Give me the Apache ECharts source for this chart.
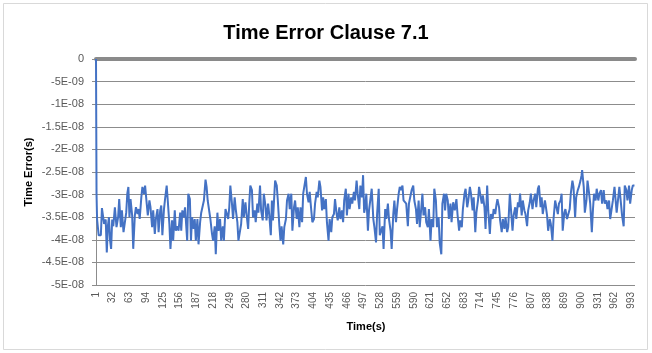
<!DOCTYPE html>
<html>
<head>
<meta charset="utf-8">
<script src="https://cdn.jsdelivr.net/npm/echarts@6/dist/echarts.min.js"></script>
<style>
html,body{margin:0;padding:0;background:#fff;}
#chart{width:652px;height:353px;}
</style>
</head>
<body>
<div id="chart"></div>
<script>
// Sample index (0-based, label = index+1) and time error in nanoseconds
var timeErrorNs = [
[0,0],[1,-30],[2,-35.5],[5,-39],[9,-39],[11,-33],[14,-33],[15,-36.5],[18,-35.5],[20,-42.8],[22,-37],[24,-35],[26,-40],[28,-42],[30,-35.5],[32,-37],[35,-32.8],[37,-32.8],[38,-37.2],[41,-35],[43,-31],[46,-37.2],[48,-33.5],[51,-38.3],[53,-38],[56,-34],[58,-29.8],[60,-28.3],[62,-35],[64,-31],[67,-34.6],[69,-42],[72,-34.6],[74,-32.8],[77,-34.3],[79,-33.2],[81,-35.4],[84,-30.6],[86,-28.3],[89,-29.8],[91,-28],[94,-32],[96,-34.6],[99,-31.3],[101,-32.8],[104,-37.2],[106,-33.5],[109,-38.7],[111,-35.4],[114,-33.2],[116,-38.3],[119,-33.5],[121,-32.4],[123,-39],[126,-33.2],[128,-31],[131,-28],[133,-31.3],[136,-36.5],[138,-42],[141,-35.7],[143,-40.2],[146,-33.5],[148,-38],[151,-37],[153,-38],[156,-34],[158,-38],[160,-33.5],[163,-35],[165,-32.8],
[166,-33.2],[169,-40.2],[171,-29.8],[174,-31],[176,-40.2],[178,-35],[181,-37.6],[183,-35.4],[185,-40.2],[188,-35.4],[190,-41],[193,-36.1],[195,-34],[198,-34],[200,-31.3],[203,-26.7],[205,-28.3],[207,-31.3],[210,-31.7],[212,-35.4],[215,-38.7],[217,-40.2],[220,-37],[222,-43.2],[225,-34],[227,-38],[230,-35.4],[232,-40.2],[235,-37],[237,-40.2],[240,-33.2],[242,-33.2],[245,-35.4],[247,-32.8],[249,-28],[252,-32],[254,-35.4],[257,-30.6],[259,-33.2],[262,-36.1],[264,-40.2],[267,-40.2],[269,-36.5],[272,-31],[274,-35],[277,-31.7],[279,-34.3],[282,-37.6],[284,-32],[286,-28],[289,-29],[291,-35],[294,-33.5],[296,-36.1],[299,-32],[301,-34],[304,-28],[306,-33.5],[309,-35.7],[311,-29.8],[314,-32.4],[316,-35.7],[319,-32],[321,-34.3],[324,-39],[326,-31.3],[328,-35.7],[331,-29],
[332,-26.9],[335,-28],[337,-31.3],[340,-37.2],[342,-40.2],[344,-37],[347,-41],[349,-37.2],[352,-35.4],[354,-31.3],[357,-29.8],[359,-33.2],[362,-29.8],[364,-38],[367,-32.8],[369,-31.3],[372,-35.4],[374,-32.8],[377,-37.2],[379,-32.8],[382,-36.1],[384,-29.8],[386,-29.4],[389,-26.1],[391,-29.8],[394,-31.7],[396,-29.4],[399,-33.5],[401,-36.1],[404,-35.4],[406,-32],[409,-29.4],[411,-30.6],[414,-26.9],[416,-28.3],[419,-33.5],[421,-30.6],[423,-33.2],[426,-31],[428,-36.1],[431,-40.2],[433,-35.4],[436,-38.3],[438,-35],[441,-34.3],[443,-31],[446,-34.3],[448,-35.7],[451,-32.8],[453,-35.4],[456,-33.5],[458,-36.1],[460,-31.3],[463,-28.7],[465,-34.6],[468,-29.8],[470,-33.2],[473,-30.6],[475,-32],[478,-29.4],[480,-31.3],[483,-26.9],[485,-29.8],[488,-33.2],[490,-28],[493,-30.6],[495,-25.7],[497,-34],
[499,-32.8],[501,-29.8],[504,-38],[506,-33.5],[509,-30.6],[511,-28.7],[514,-35.4],[516,-37.2],[519,-40.6],[521,-34.3],[524,-28.7],[526,-39],[528,-39],[531,-37],[533,-42],[536,-33.2],[538,-35.4],[541,-32],[543,-35.4],[546,-38],[548,-42],[551,-34.3],[553,-31.3],[556,-36.1],[558,-33.2],[561,-29.8],[563,-28.3],[565,-29],[568,-28],[570,-31.3],[573,-31],[575,-32],[578,-37],[580,-32],[583,-30.2],[585,-29],[588,-28],[590,-31.3],[593,-33.2],[595,-36.5],[598,-31.3],[600,-37.2],[603,-32.8],[605,-29.8],[607,-34.6],[610,-32.8],[612,-36.1],[615,-37.2],[617,-33.2],[620,-40.2],[622,-35.4],[625,-37.2],[627,-28.7],[630,-31.3],[632,-37.2],[635,-35],[637,-40.6],[640,-43.2],[642,-32],[645,-29.8],[647,-33.5],[649,-29.8],[652,-31.3],[654,-35.4],[657,-32],[659,-36.1],[662,-31.7],[665,-33.5],
[668,-31],[670,-34.3],[673,-38],[675,-35.7],[678,-37.2],[680,-33.2],[683,-29.8],[685,-28.7],[688,-32.8],[690,-31.3],[693,-28.3],[695,-29.8],[698,-33.5],[700,-30.6],[703,-38.3],[705,-34],[708,-31.3],[710,-28.3],[712,-28],[715,-32],[717,-30.2],[720,-32.8],[722,-37.6],[725,-28],[727,-33.5],[730,-38.7],[732,-34.3],[735,-35.4],[737,-33.2],[740,-34.3],[742,-32.4],[744,-31],[747,-32.8],[749,-35.7],[752,-38.3],[754,-35.4],[757,-37.6],[759,-35],[762,-38.3],[764,-37.2],[767,-29.8],[769,-29.8],[772,-38],[774,-34.6],[777,-32.8],[779,-35.4],[782,-31.7],[784,-32.8],[786,-29.8],[789,-34.6],[791,-31.3],[794,-33.5],[796,-34.3],[799,-37],[801,-33.5],[804,-31.7],[806,-29.8],[809,-33.2],[811,-31.3],[814,-29.8],[816,-32.8],[819,-28.7],[821,-28],[824,-32.8],[826,-30.6],[828,-34.3],[832,-31.3],
[833,-32],[836,-34.6],[838,-38],[841,-35.4],[843,-36.5],[846,-40.2],[848,-35.4],[851,-31.3],[853,-31],[856,-34.3],[858,-32],[861,-31.3],[863,-29.8],[865,-38],[868,-34],[870,-33.2],[873,-35.4],[875,-35.7],[878,-33.2],[880,-29.8],[883,-26.9],[885,-28.3],[888,-35],[890,-30.6],[893,-29],[895,-28.3],[898,-26.9],[900,-25.7],[901,-24.6],[904,-28.3],[906,-34],[909,-31.3],[911,-26.9],[914,-29.8],[916,-32],[919,-38.3],[921,-33.5],[923,-29.8],[926,-31.3],[928,-28.7],[931,-31.3],[933,-29.8],[936,-29],[938,-32],[941,-29],[943,-32],[946,-31.3],[948,-33.2],[951,-31.3],[953,-35.4],[956,-35.7],[958,-31.3],[961,-28.3],[963,-28],[965,-34],[968,-30.6],[970,-28.3],[973,-32],[975,-34.6],[978,-37],[980,-28],[983,-29],[985,-31.3],[988,-28],[990,-32],[993,-29],[995,-28],[998,-28],[999,-28]
];
var xTickLabels = ['1','32','63','94','125','156','187','218','249','280','311','342','373','404','435','466','497','528','559','590','621','652','683','714','745','776','807','838','869','900','931','962','993'];
var yTickLabels = ['-5E-08','-4.5E-08','-4E-08','-3.5E-08','-3E-08','-2.5E-08','-2E-08','-1.5E-08','-1E-08','-5E-09','0'];
var xStep = 31, xMax = 999, yStep = 5e-9;

var chart = echarts.init(document.getElementById('chart'), null, {renderer: 'canvas'});
var data = timeErrorNs.map(function (p) { return [p[0], p[1] * 1e-9]; });
var font = 'Liberation Sans, Arial, sans-serif';
chart.setOption({
  animation: false,
  backgroundColor: '#fff',
  grid: {left: 96, right: 17, top: 59, bottom: 68, containLabel: false},
  xAxis: [{
    type: 'value', min: 0, max: xMax, interval: xStep, position: 'bottom',
    axisLine: {show: false}, axisTick: {show: false}, splitLine: {show: false},
    axisLabel: {
      rotate: 90, fontSize: 10, color: '#595959', fontFamily: font, margin: 7,
      showMaxLabel: false,
      formatter: function (v) {
        var k = Math.round(v / xStep);
        return Math.abs(v - k * xStep) < 1e-6 && xTickLabels[k] ? xTickLabels[k] : '';
      }
    }
  }, {
    type: 'value', min: 0, max: xMax, position: 'top',
    axisLine: {show: true, lineStyle: {color: '#8a8a8a', width: 4}},
    axisTick: {show: false}, axisLabel: {show: false}, splitLine: {show: false}
  }],
  yAxis: {
    type: 'value', min: -5e-8, max: 0, interval: yStep,
    axisLine: {show: true, lineStyle: {color: '#8c8c8c', width: 1}},
    axisTick: {show: true, length: 4, lineStyle: {color: '#8c8c8c'}},
    splitLine: {show: true, lineStyle: {color: '#8c8c8c', width: 1}},
    axisLabel: {
      fontSize: 11, color: '#595959', fontFamily: font, margin: 12,
      formatter: function (v) { return yTickLabels[Math.round(v / yStep) + 10]; }
    }
  },
  series: [{
    type: 'line', xAxisIndex: 0, data: data, showSymbol: false, symbol: 'none',
    lineStyle: {color: '#4472C4', width: 2}, z: 3
  }],
  graphic: [
    {type: 'rect', shape: {x: 3.5, y: 3.5, width: 644, height: 346}, style: {fill: 'none', stroke: '#d9d9d9', lineWidth: 1}, silent: true},
    {type: 'text', x: 326, y: 33, style: {text: 'Time Error Clause 7.1', font: 'bold 20px Liberation Sans, Arial, sans-serif', fill: '#000', align: 'center', verticalAlign: 'middle'}},
    {type: 'text', x: 366, y: 327, style: {text: 'Time(s)', font: 'bold 11px Liberation Sans, Arial, sans-serif', fill: '#000', align: 'center', verticalAlign: 'middle'}},
    {type: 'text', x: 29, y: 172, rotation: Math.PI / 2, style: {text: 'Time Error(s)', font: 'bold 11px Liberation Sans, Arial, sans-serif', fill: '#000', align: 'center', verticalAlign: 'middle'}}
  ]
});
</script>
</body>
</html>
